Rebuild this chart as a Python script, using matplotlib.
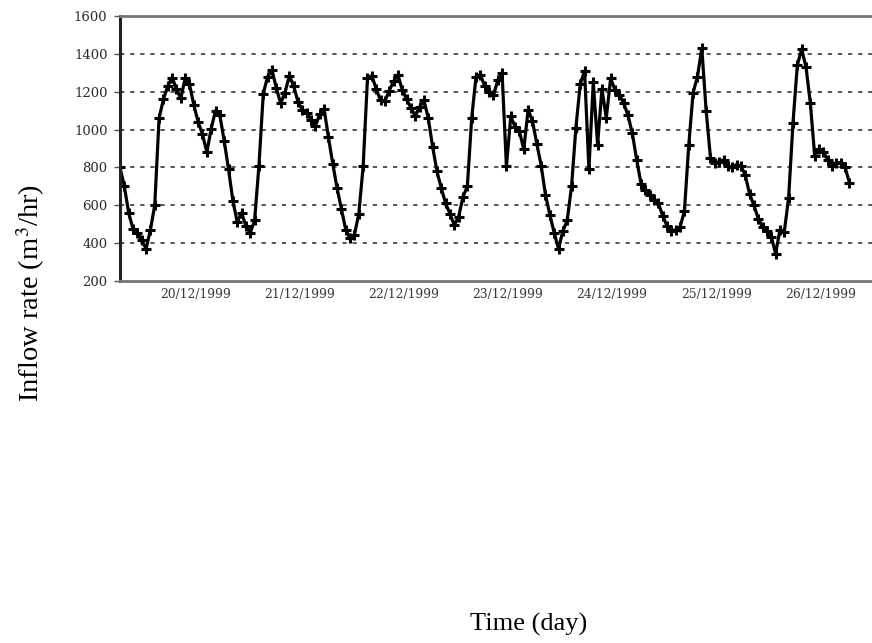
import matplotlib
matplotlib.use("Agg")
import matplotlib.pyplot as plt
import numpy as np

# Hourly inflow rate (m3/hr), starting on the evening of 19/12/1999
inflow = [
    800, 700, 560, 475, 455, 415, 370, 470, 600, 1060,
    1160, 1230, 1275, 1215, 1165, 1270, 1240, 1130, 1040, 975,
    880, 1005, 1100, 1075, 940, 790, 625, 510, 560, 490,
    455, 520, 810, 1190, 1280, 1315, 1220, 1140, 1195, 1285,
    1230, 1145, 1105, 1090, 1050, 1020, 1080, 1110, 960, 820,
    690, 580, 470, 425, 445, 555, 805, 1270, 1285, 1215,
    1155, 1150, 1205, 1255, 1290, 1210, 1160, 1115, 1070, 1120,
    1155, 1060, 910, 780, 690, 610, 555, 495, 540, 645,
    700, 1060, 1280, 1290, 1230, 1200, 1180, 1260, 1300, 805,
    1070, 1015, 990, 895, 1105, 1045, 925, 810, 655, 550,
    455, 370, 465, 520, 700, 1010, 1240, 1310, 790, 1250,
    920, 1215, 1060, 1270, 1210, 1185, 1140, 1075, 980, 840,
    715, 680, 655, 630, 610, 545, 490, 465, 470, 485,
    570, 920, 1195, 1280, 1430, 1100, 850, 825, 830, 840,
    810, 800, 815, 808, 760, 660, 600, 530, 485, 465,
    435, 345, 470, 460, 640, 1035, 1340, 1425, 1330, 1140,
    860, 895, 880, 840, 810, 825, 825, 800, 720,
]
hours = np.arange(len(inflow))

day_labels = ["20/12/1999", "21/12/1999", "22/12/1999", "23/12/1999",
              "24/12/1999", "25/12/1999", "26/12/1999"]
day_ticks = 17.3 + 24.0 * np.arange(len(day_labels))
y_ticks = [200, 400, 600, 800, 1000, 1200, 1400, 1600]

plt.rcParams["mathtext.fontset"] = "stix"

fig = plt.figure(figsize=(8.72, 6.43), dpi=100)
ax = fig.add_axes([120 / 872, 1 - 281 / 643, 1 - 120 / 872, (281 - 16) / 643])

ax.plot(hours, inflow, color="black", lw=2.3, marker="+", ms=7.5, mew=2.2)

ax.set_xlim(0, 173.2)
ax.set_ylim(200, 1600)
ax.set_yticks(y_ticks)
ax.set_yticklabels([str(v) for v in y_ticks], family="DejaVu Serif",
                   fontsize=9.5, color="#2a2a2a")
ax.set_xticks(day_ticks)
ax.set_xticklabels(day_labels, family="DejaVu Serif", fontsize=8.8,
                   color="#3a3a3a")
ax.tick_params(axis="x", length=0, pad=5)
ax.tick_params(axis="y", length=4, width=1, color="#555555", pad=5)

for v in [400, 600, 800, 1000, 1200, 1400]:
    ax.axhline(v, color="#555555", lw=1.4, ls=(0, (2.2, 3.0)), zorder=0)

ax.spines["right"].set_visible(False)
ax.spines["left"].set_color("#222222")
ax.spines["left"].set_linewidth(2.2)
ax.spines["top"].set_color("#777777")
ax.spines["top"].set_linewidth(2.0)
ax.spines["bottom"].set_color("#777777")
ax.spines["bottom"].set_linewidth(2.0)

fig.text(31 / 872, 1 - 293 / 643, r"Inflow rate (m$^{3}$/hr)", rotation=90,
         ha="center", va="center", family="Liberation Serif", fontsize=20.5)
fig.text(529 / 872, 1 - 624 / 643, "Time (day)", ha="center", va="center",
         family="Liberation Serif", fontsize=19)

fig.savefig("out.png", dpi=100)
